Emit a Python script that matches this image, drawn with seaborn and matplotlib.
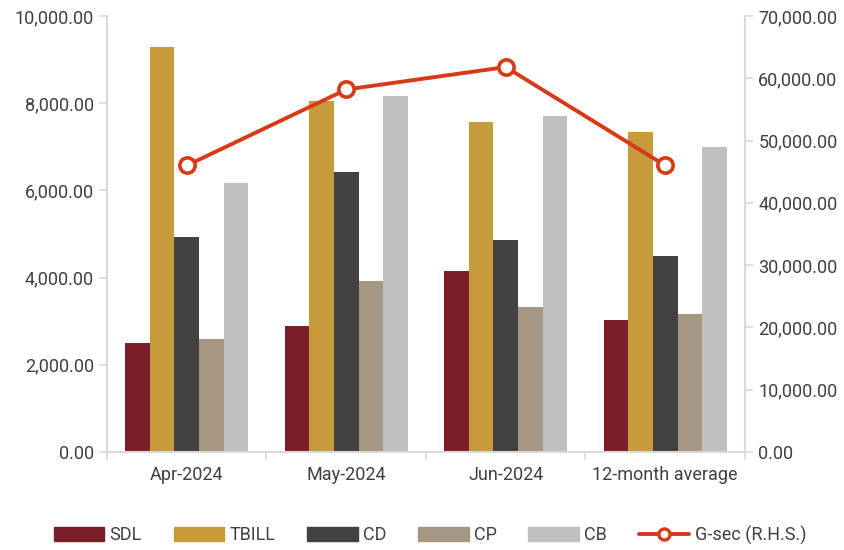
import matplotlib
matplotlib.use("Agg")
import matplotlib.pyplot as plt
import seaborn as sns
import pandas as pd
from matplotlib.ticker import FuncFormatter, FixedLocator
from matplotlib.lines import Line2D

categories = ["Apr-2024", "May-2024", "Jun-2024", "12-month average"]
series = ["SDL", "TBILL", "CD", "CP", "CB"]
sdl = [2500, 2890, 4150, 3030]
tbill = [9300, 8050, 7570, 7340]
cd = [4940, 6415, 4860, 4500]
cp = [2600, 3920, 3320, 3165]
cb = [6160, 8165, 7705, 7000]
gsec = [46000, 58200, 61800, 46000]

colors = ["#7b1e2a", "#c79a3b", "#414141", "#a69784", "#bfbfbf"]
line_color = "#d63a17"
text_color = "#404040"
axis_color = "#d9d9d9"

sns.set_theme(style="white")
plt.rcParams["font.family"] = ["Roboto", "DejaVu Sans"]

rows = []
for name, vals in zip(series, [sdl, tbill, cd, cp, cb]):
    for cat, v in zip(categories, vals):
        rows.append({"category": cat, "series": name, "value": v})
df = pd.DataFrame(rows)

fig = plt.figure(figsize=(8.45, 5.5), dpi=100)
ax = fig.add_axes([107 / 845, 1 - 452 / 550, (745 - 107) / 845, (452 - 16) / 550])

sns.barplot(data=df, x="category", y="value", hue="series", order=categories,
            hue_order=series, palette=colors, width=0.77, gap=0, saturation=1,
            ax=ax, legend=False, edgecolor="none")

ax2 = ax.twinx()
x_pos = list(range(len(categories)))
ax2.plot(x_pos, gsec, color=line_color, lw=2.8, marker="o", ms=11,
         markerfacecolor="white", markeredgecolor=line_color, markeredgewidth=2.6,
         zorder=5)

ax.set_xlim(-0.5, len(categories) - 0.5)
ax.set_ylim(0, 10000)
ax2.set_ylim(0, 70000)
ax.set_yticks(range(0, 10001, 2000))
ax2.set_yticks(range(0, 70001, 10000))
fmt = FuncFormatter(lambda v, p: f"{v:,.2f}")
ax.yaxis.set_major_formatter(fmt)
ax2.yaxis.set_major_formatter(fmt)
ax.set_xlabel("")
ax.set_ylabel("")
ax2.set_ylabel("")

# category dividers on the bottom axis
ax.xaxis.set_minor_locator(FixedLocator([i - 0.5 for i in range(len(categories) + 1)]))
ax.tick_params(axis="x", which="major", length=0, pad=10, labelsize=13, colors=text_color)
ax.tick_params(axis="x", which="minor", length=6, width=1.2, color=axis_color, bottom=True)
ax.tick_params(axis="y", length=6, width=1.2, color=axis_color, labelsize=13,
               labelcolor=text_color, left=True)
ax2.tick_params(axis="y", length=6, width=1.2, color=axis_color, labelsize=13,
                labelcolor=text_color, right=True)

for a in (ax, ax2):
    a.spines["top"].set_visible(False)
    for s in ("left", "right", "bottom"):
        a.spines[s].set_color(axis_color)
        a.spines[s].set_linewidth(1.5)
ax.spines["right"].set_visible(False)
ax2.spines["left"].set_visible(False)
ax2.spines["bottom"].set_visible(False)

handles = [plt.Rectangle((0, 0), 1, 1, color=c) for c in colors]
handles.append(Line2D([0], [0], color=line_color, lw=2.8, marker="o", ms=8,
                      markerfacecolor="white", markeredgecolor=line_color,
                      markeredgewidth=2.4))
labels = series + ["G-sec (R.H.S.)"]
fig.legend(handles, labels, loc="center", bbox_to_anchor=(430 / 845, 1 - 535 / 550),
           ncol=6, frameon=False, fontsize=13, handlelength=2.8, handleheight=0.85,
           columnspacing=1.75, handletextpad=0.3, labelcolor=text_color)

fig.savefig("out.png", dpi=100)
